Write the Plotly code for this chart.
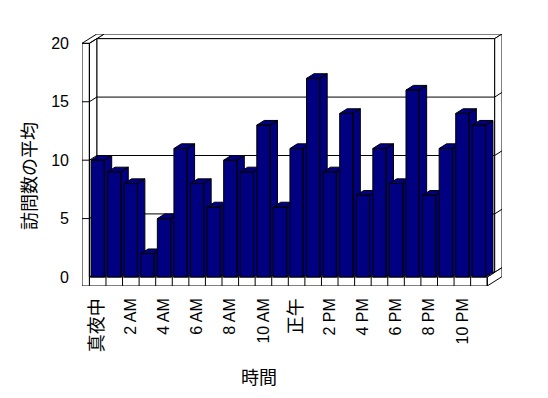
import plotly.graph_objects as go

# ---- data ----
hours = list(range(24))
avg_visits = [10, 9, 8, 2, 5, 11, 8, 6, 10, 9, 13, 6,
              11, 17, 9, 14, 7, 11, 8, 16, 7, 11, 14, 13]
tick_positions = [0, 2, 4, 6, 8, 10, 12, 14, 16, 18, 20, 22]
tick_labels = ["真夜中", "2 AM", "4 AM", "6 AM", "8 AM", "10 AM",
               "正午", "2 PM", "4 PM", "6 PM", "8 PM", "10 PM"]
y_ticks = [0, 5, 10, 15, 20]
x_title = "時間"
y_title = "訪問数の平均"

# ---- 3D look parameters (data units) ----
DX = 0.446      # depth offset in category units
DY = 0.40       # depth offset in value units
FT = 0.77       # floor slab thickness
BW = 0.40       # half bar width
YMAX = 20
X0, X1 = -0.5, len(hours) - 0.5

NAVY = "#000080"
CJK = "Noto Sans CJK JP"
LAT = "Liberation Sans, Arial, " + CJK

fig = go.Figure()


def add_poly(polys, fill="white", line="black", width=1):
    xs, ys = [], []
    for p in polys:
        for (a, b) in p + [p[0]]:
            xs.append(a)
            ys.append(b)
        xs.append(None)
        ys.append(None)
    fig.add_trace(go.Scatter(x=xs, y=ys, mode="lines", fill="toself",
                             fillcolor=fill, line=dict(color=line, width=width),
                             hoverinfo="skip", showlegend=False))


def add_lines(segs):
    xs, ys = [], []
    for (a, b), (c, d) in segs:
        xs += [a, c, None]
        ys += [b, d, None]
    fig.add_trace(go.Scatter(x=xs, y=ys, mode="lines",
                             line=dict(color="black", width=1),
                             hoverinfo="skip", showlegend=False))


# back wall top face
add_poly([[(X0 + DX, YMAX + DY), (X1 + DX, YMAX + DY),
           (X1 + 2 * DX, YMAX + 2 * DY), (X0 + 2 * DX, YMAX + 2 * DY)]])
# back wall right end face
add_poly([[(X1 + DX, DY), (X1 + 2 * DX, 2 * DY),
           (X1 + 2 * DX, YMAX + 2 * DY), (X1 + DX, YMAX + DY)]])
# back wall inner face
add_poly([[(X0 + DX, DY), (X1 + DX, DY), (X1 + DX, YMAX + DY), (X0 + DX, YMAX + DY)]])
# floor right face
add_poly([[(X1, -FT), (X1 + 2 * DX, -FT + 2 * DY), (X1 + 2 * DX, 2 * DY), (X1, 0)]])
# floor top face
add_poly([[(X0, 0), (X1, 0), (X1 + DX, DY), (X0 + DX, DY)]])
# floor front face
add_poly([[(X0, -FT), (X1, -FT), (X1, 0), (X0, 0)]])
# left wall: front face, inner face, top face
add_poly([[(X0 - DX, -FT), (X0, -FT), (X0, YMAX), (X0 - DX, YMAX)],
          [(X0, 0), (X0 + DX, DY), (X0 + DX, YMAX + DY), (X0, YMAX)],
          [(X0 - DX, YMAX), (X0, YMAX), (X0 + 2 * DX, YMAX + 2 * DY),
           (X0 + DX, YMAX + 2 * DY)]])

# gridlines and category dividers
segs = []
for v in y_ticks[1:-1]:
    segs.append(((X0 + DX, v + DY), (X1 + DX, v + DY)))
    segs.append(((X1 + DX, v + DY), (X1 + 2 * DX, v + 2 * DY)))
    segs.append(((X0, v), (X0 + DX, v + DY)))
    segs.append(((X0 - DX, v), (X0, v)))
for k in range(1, len(hours) + 1):
    segs.append(((X0 + k, -FT), (X0 + k, 0)))
add_lines(segs)

# bars, left to right
for h, v in zip(hours, avg_visits):
    front = [(h - BW, 0), (h + BW, 0), (h + BW, v), (h - BW, v)]
    side = [(h + BW, 0), (h + BW + DX, DY), (h + BW + DX, v + DY), (h + BW, v)]
    top = [(h - BW, v), (h + BW, v), (h + BW + DX, v + DY), (h - BW + DX, v + DY)]
    add_poly([front, side, top], fill=NAVY)

ticktext = []
for t in tick_labels:
    if any(ord(c) > 0x3000 for c in t):
        ticktext.append('<span style="font-family:%s;font-size:18px">%s</span>' % (CJK, t))
    else:
        ticktext.append(t)

fig.update_layout(
    width=548, height=398,
    margin=dict(l=82, r=46, t=34, b=112, pad=0),
    paper_bgcolor="white", plot_bgcolor="white",
    font=dict(family=LAT, color="black", size=15),
    xaxis=dict(range=[X0 - DX, X1 + 2 * DX], showgrid=False, zeroline=False,
               showline=False, tickmode="array", tickvals=tick_positions,
               ticktext=ticktext, tickangle=-90, ticks="",
               ticklabelstandoff=8, tickfont=dict(size=16, family=LAT)),
    yaxis=dict(range=[-FT, YMAX + 2 * DY], showgrid=False, zeroline=False,
               showline=False, tickmode="array", tickvals=y_ticks, ticks="",
               ticklabelstandoff=12, tickfont=dict(size=16, family=LAT)),
    annotations=[
        dict(text=y_title, xref="paper", yref="paper",
             x=(28 - 82) / 420, y=(286 - 176) / 252, textangle=-90,
             showarrow=False, font=dict(family=CJK, size=18),
             xanchor="center", yanchor="middle"),
        dict(text=x_title, xref="paper", yref="paper",
             x=(259 - 82) / 420, y=(286 - 376) / 252,
             showarrow=False, font=dict(family=CJK, size=18),
             xanchor="center", yanchor="middle"),
    ],
)

fig.write_html("out.html", config={"displayModeBar": False})

# remove the default page margin so the figure sits at the window origin
with open("out.html", encoding="utf-8") as f:
    html = f.read()
html = html.replace("<body>", '<body style="margin:0;padding:0;overflow:hidden">', 1)
with open("out.html", "w", encoding="utf-8") as f:
    f.write(html)
